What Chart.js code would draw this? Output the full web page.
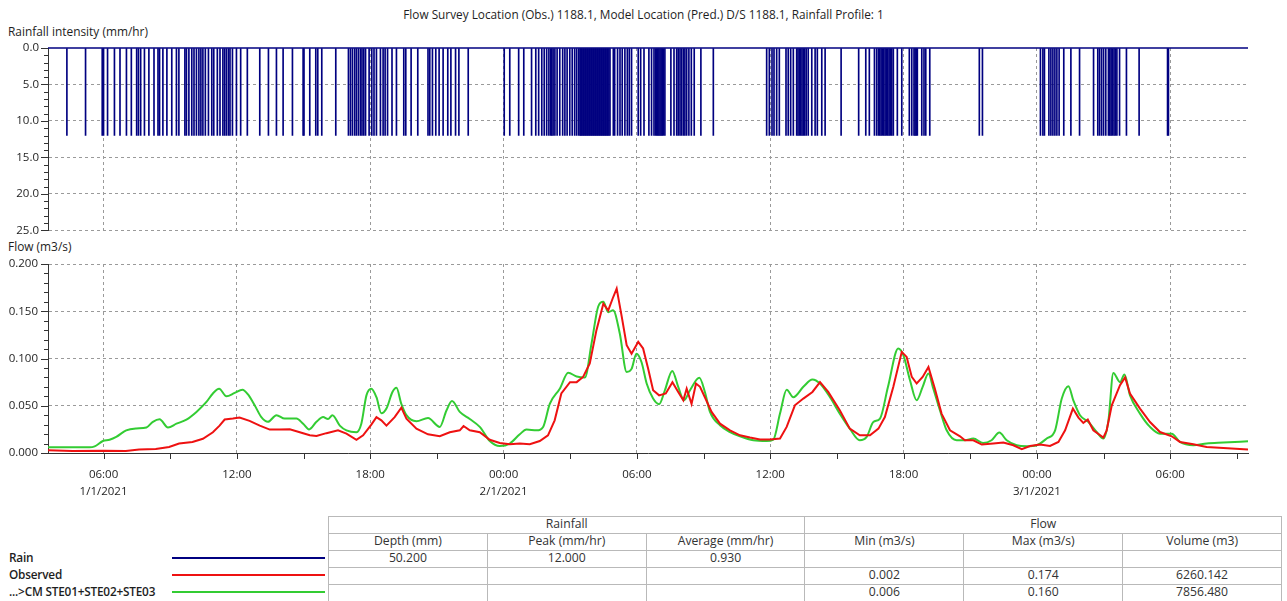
<!DOCTYPE html>
<html><head><meta charset="utf-8">
<script src="https://cdn.jsdelivr.net/npm/chart.js@4.4.1/dist/chart.umd.min.js"></script>
<style>
html,body{margin:0;padding:0;background:#fff;}
body{width:1287px;height:601px;position:relative;overflow:hidden;font-family:"Open Sans","Noto Sans",sans-serif;color:#1e1e1e;}
#title{position:absolute;left:0;width:1287px;top:5px;text-align:center;font-size:11.8px;line-height:18px;}
.axt{position:absolute;left:8px;font-size:11.9px;line-height:16px;}
canvas{position:absolute;left:0;}
#c1{top:0;}
#c2{top:240px;}
.lg{position:absolute;left:9px;font-size:11.8px;font-weight:600;white-space:nowrap;line-height:17px;letter-spacing:-0.2px;}
.ll{position:absolute;left:172px;width:153px;height:2px;}
table{position:absolute;left:328px;top:516px;border-collapse:collapse;table-layout:fixed;width:954px;font-size:12.2px;color:#333;}
td{border:1px solid #b9b9b9;height:16px;line-height:14px;vertical-align:top;text-align:center;padding:0;overflow:hidden;white-space:nowrap;}
</style>
</head>
<body>
<div id="title">Flow Survey Location (Obs.) 1188.1, Model Location (Pred.) D/S 1188.1, Rainfall Profile: 1</div>
<div class="axt" style="top:23px">Rainfall intensity (mm/hr)</div>
<div class="axt" style="top:238px">Flow (m3/s)</div>
<canvas id="c1" width="1287" height="248"></canvas>
<canvas id="c2" width="1287" height="258"></canvas>

<div class="lg" style="top:549px">Rain</div>
<div class="lg" style="top:566px">Observed</div>
<div class="lg" style="top:583px">...&gt;CM STE01+STE02+STE03</div>
<div class="ll" style="top:557px;background:#000080"></div>
<div class="ll" style="top:574px;background:#ee1111"></div>
<div class="ll" style="top:591px;background:#33cc33"></div>

<table>
<colgroup><col><col><col><col><col><col></colgroup>
<tr><td colspan="3">Rainfall</td><td colspan="3">Flow</td></tr>
<tr><td>Depth (mm)</td><td>Peak (mm/hr)</td><td>Average (mm/hr)</td><td>Min (m3/s)</td><td>Max (m3/s)</td><td>Volume (m3)</td></tr>
<tr><td>50.200</td><td>12.000</td><td>0.930</td><td></td><td></td><td></td></tr>
<tr><td></td><td></td><td></td><td>0.002</td><td>0.174</td><td>6260.142</td></tr>
<tr><td></td><td></td><td></td><td>0.006</td><td>0.160</td><td>7856.480</td></tr>
</table>

<script>
// ---- time axis (hours since 00:00 on 1/1/2021) ----
const xMin = 3.5, xMax = 57.5;
const xMajorHours = [6, 12, 18, 24, 30, 36, 42, 48, 54];
const xMajorLabels = ['06:00', '12:00', '18:00', '00:00', '06:00', '12:00', '18:00', '00:00', '06:00'];
const xDateLabels = ['1/1/2021', '', '', '2/1/2021', '', '', '', '3/1/2021', ''];
const xMinorHours = [9, 15, 21, 27, 33, 39, 45, 51, 57];

// ---- rainfall (each tip = 12.0 mm/hr) ----
const rainPeak = 12.0;
const rainTimes = [
 4.35, 5.19, 5.94, 6.00, 6.18, 6.49, 6.74, 7.03, 7.25, 7.49, 7.57, 7.67, 7.84, 8.04, 8.27, 8.45, 8.52, 8.67, 8.85, 9.07,
 9.28, 9.39, 9.66, 9.73, 9.84, 9.97, 10.07, 10.18, 10.29, 10.38, 10.47, 10.58, 10.72, 10.87, 10.96, 11.12, 11.24, 11.37,
 11.45, 11.53, 11.62, 11.69, 11.80, 11.98, 12.17, 12.47, 13.03, 13.42, 13.78, 14.08, 14.50, 14.98, 15.02, 15.28, 15.55,
 15.64, 15.82, 16.45, 17.02, 17.11, 17.20, 17.30, 17.38, 17.47, 17.56, 17.63, 17.71, 17.79, 17.95, 18.07, 18.17, 18.28,
 18.46, 18.58, 18.67, 18.78, 18.98, 19.18, 19.51, 19.60, 19.84, 20.14, 20.60, 20.68, 20.80, 20.95, 21.10, 21.28, 21.49,
 21.63, 21.84, 21.99, 22.41, 24.03, 24.28, 24.68, 24.91, 25.26, 25.45, 25.58, 25.72, 25.83, 25.94, 26.04, 26.12, 26.17,
 26.23, 26.31, 26.41, 26.53, 26.66, 26.76, 26.86, 26.98, 27.09, 27.20, 27.29, 27.38, 27.44,
 27.48, 27.52, 27.57, 27.61, 27.66, 27.70, 27.75, 27.79, 27.84, 27.88, 27.93, 27.97, 28.02, 28.06, 28.11, 28.15, 28.20,
 28.24, 28.29, 28.33, 28.38, 28.42, 28.47, 28.51, 28.56, 28.60, 28.65, 28.69, 28.74,
 28.79, 28.94, 29.00, 29.13, 29.24, 29.34, 29.46, 29.57, 29.66, 29.76, 30.06, 30.17, 30.32, 30.54, 30.66, 30.77,
 30.84, 30.89, 30.94, 30.99, 31.04, 31.09, 31.14, 31.19,
 31.26, 31.53, 31.67, 31.79, 31.86, 31.94, 32.01, 32.09, 32.16, 32.24, 32.34, 32.45, 32.58, 32.88, 33.44, 35.84, 35.96,
 36.08, 36.17, 36.29, 36.41, 36.71, 36.81, 36.92, 37.04, 37.19, 37.25, 37.31, 37.37, 37.43, 37.49, 37.55, 37.62, 37.71,
 37.87, 38.02, 38.12, 38.32, 38.47, 39.19, 39.98,
 40.30, 40.46, 40.69, 40.79, 40.87, 40.93, 40.99, 41.05, 41.11, 41.17, 41.23, 41.29, 41.35, 41.41, 41.47, 41.54, 41.72,
 41.92, 42.26, 42.37, 42.47, 42.52, 42.57, 42.62, 42.82, 42.92, 43.00, 43.18, 45.41, 45.55, 48.16, 48.27, 48.34, 48.54,
 48.63, 48.72, 48.81, 48.90, 49.00, 49.21, 49.53, 49.92, 50.55, 50.74, 50.82, 50.91, 51.00, 51.10, 51.22, 51.28, 51.34,
 51.40, 51.47, 51.53, 51.60, 51.72, 52.03, 52.60, 53.88, 53.92
];
const rainYMajor = [0, 5, 10, 15, 20, 25];
const rainYLabels = ['0.0', '5.0', '10.0', '15.0', '20.0', '25.0'];

// ---- flow (m3/s) ----
const flowYMajor = [0, 0.05, 0.1, 0.15, 0.2];
const flowYLabels = ['0.000', '0.050', '0.100', '0.150', '0.200'];

const obsHours = [
 3.5, 4.6, 6.0, 7.0, 7.6, 8.35, 8.95, 9.4, 10.0, 10.47, 10.92, 11.22, 11.45, 11.82, 12.12, 12.57, 13.03, 13.48, 13.93,
 14.38, 14.83, 15.28, 15.58, 16.03, 16.55, 16.93, 17.38, 17.68, 18.05, 18.28, 18.5, 18.73, 19.1, 19.4, 19.63, 20.08,
 20.6, 21.13, 21.58, 22.03, 22.2, 22.48, 22.93, 23.38, 23.83, 24.28, 24.73, 25.18, 25.63, 26.0, 26.3, 26.6, 26.99,
 27.29, 27.58, 27.88, 28.18, 28.49, 28.71, 28.91, 29.09, 29.32, 29.54, 29.76, 30.06, 30.28, 30.51, 30.73, 31.0, 31.3,
 31.6, 31.86, 32.09, 32.24, 32.46, 32.66, 32.84, 33.06, 33.36, 33.74, 34.19, 34.64, 35.09, 35.54, 35.99, 36.44, 36.74,
 37.11, 37.49, 37.9, 38.24, 38.61, 39.13, 39.58, 40.03, 40.49, 40.87, 41.16, 41.54, 41.92, 42.14, 42.37, 42.59, 42.86,
 43.12, 43.41, 43.71, 44.09, 44.54, 44.76, 45.14, 45.52, 46.04, 46.49, 46.94, 47.32, 47.69, 48.14, 48.59, 48.97, 49.27,
 49.62, 49.87, 50.09, 50.29, 50.54, 50.99, 51.14, 51.37, 51.74, 51.97, 52.19, 52.64, 53.09, 53.54, 54.07, 54.44, 55.04,
 55.64, 56.39, 57.5
];
const obsFlow = [
 0.003, 0.002, 0.0025, 0.002, 0.0036, 0.0042, 0.0064, 0.010, 0.0117, 0.015, 0.022, 0.029, 0.0354, 0.0364, 0.0375, 0.034,
 0.029, 0.0248, 0.0248, 0.025, 0.022, 0.0187, 0.018, 0.021, 0.024, 0.0205, 0.014, 0.0187, 0.030, 0.038, 0.0346, 0.029,
 0.038, 0.048, 0.0364, 0.0258, 0.0198, 0.0177, 0.022, 0.024, 0.0286, 0.024, 0.022, 0.014, 0.0106, 0.0092, 0.010, 0.0092,
 0.0127, 0.0187, 0.0346, 0.063, 0.075, 0.075, 0.0805, 0.0947, 0.130, 0.158, 0.151, 0.1635, 0.174, 0.144, 0.114, 0.105,
 0.1176, 0.1106, 0.089, 0.0664, 0.061, 0.063, 0.075, 0.0646, 0.0558, 0.068, 0.052, 0.0735, 0.070, 0.059, 0.0435, 0.031,
 0.024, 0.0187, 0.0163, 0.0142, 0.0142, 0.0153, 0.0276, 0.0505, 0.0576, 0.0646, 0.075, 0.0646, 0.0452, 0.0258, 0.0187,
 0.0187, 0.0258, 0.038, 0.070, 0.107, 0.1017, 0.0805, 0.0735, 0.0805, 0.091, 0.068, 0.0417, 0.024, 0.0177, 0.0135,
 0.0135, 0.0089, 0.010, 0.011, 0.0082, 0.004, 0.0074, 0.0089, 0.0074, 0.0117, 0.024, 0.047, 0.0375, 0.0318, 0.0354,
 0.024, 0.0163, 0.024, 0.0505, 0.0717, 0.080, 0.063, 0.047, 0.0328, 0.0222, 0.0177, 0.0117, 0.0092, 0.0064, 0.0053,
 0.0036
];

const modelHours = [
 3.5, 5.37, 5.6, 5.97, 6.27, 6.57, 7.02, 7.47, 7.93, 8.22, 8.52, 8.9, 9.28, 9.73, 10.18, 10.63, 10.92, 11.2, 11.53, 11.9,
 12.25, 12.5, 12.8, 13.1, 13.4, 13.78, 14.15, 14.68, 14.98, 15.25, 15.58, 15.88, 16.1, 16.3, 16.63, 16.93, 17.38, 17.6,
 17.83, 18.05, 18.28, 18.5, 18.73, 19.0, 19.18, 19.4, 19.63, 20.08, 20.6, 21.13, 21.43, 21.68, 22.03, 22.48, 22.93,
 23.38, 23.83, 24.28, 24.73, 25.03, 25.49, 25.78, 26.08, 26.53, 26.91, 27.29, 27.66, 27.96, 28.26, 28.49, 28.71, 28.93,
 29.23, 29.54, 29.76, 29.98, 30.21, 30.44, 30.73, 31.0, 31.26, 31.59, 31.86, 32.12, 32.39, 32.81, 33.06, 33.29, 33.74,
 34.19, 34.64, 35.24, 35.84, 36.14, 36.44, 36.74, 37.04, 37.49, 37.9, 38.24, 38.69, 39.13, 39.58, 40.03, 40.34, 40.64,
 40.94, 41.3, 41.76, 41.99, 42.29, 42.59, 42.86, 43.12, 43.34, 43.64, 43.94, 44.39, 44.76, 45.14, 45.58, 45.96, 46.31,
 46.64, 47.09, 47.54, 47.99, 48.44, 48.82, 49.12, 49.42, 49.64, 49.94, 50.32, 50.69, 50.99, 51.22, 51.44, 51.74, 51.94,
 52.19, 52.64, 53.09, 53.54, 54.07, 54.44, 55.04, 55.64, 56.39, 57.5
];
const modelFlow = [
 0.006, 0.006, 0.007, 0.0127, 0.014, 0.017, 0.024, 0.026, 0.027, 0.033, 0.0357, 0.027, 0.031, 0.0354, 0.0435, 0.054,
 0.063, 0.068, 0.060, 0.0636, 0.067, 0.062, 0.0505, 0.038, 0.033, 0.040, 0.0364, 0.0364, 0.031, 0.025, 0.033, 0.038,
 0.036, 0.040, 0.029, 0.024, 0.022, 0.031, 0.061, 0.068, 0.059, 0.042, 0.047, 0.0646, 0.069, 0.052, 0.040, 0.0336,
 0.037, 0.0276, 0.045, 0.055, 0.0435, 0.036, 0.0276, 0.0127, 0.0074, 0.010, 0.0198, 0.0248, 0.024, 0.0276, 0.052,
 0.068, 0.0848, 0.081, 0.080, 0.116, 0.155, 0.160, 0.149, 0.151, 0.1265, 0.0858, 0.089, 0.105, 0.096, 0.0735, 0.0576,
 0.0516, 0.0664, 0.0869, 0.070, 0.0558, 0.0664, 0.0795, 0.0646, 0.0435, 0.0293, 0.0222, 0.0177, 0.0135, 0.0127, 0.0142,
 0.0417, 0.067, 0.059, 0.070, 0.0778, 0.0735, 0.059, 0.0417, 0.0258, 0.0135, 0.017, 0.0328, 0.0364, 0.070, 0.1106,
 0.1035, 0.077, 0.0558, 0.070, 0.0841, 0.068, 0.045, 0.024, 0.0135, 0.0135, 0.0153, 0.0106, 0.0135, 0.0216, 0.0135,
 0.0082, 0.0071, 0.0082, 0.0153, 0.024, 0.0576, 0.0707, 0.0558, 0.040, 0.0328, 0.0222, 0.0153, 0.0346, 0.0847, 0.075,
 0.083, 0.061, 0.0417, 0.0276, 0.0205, 0.0205, 0.0117, 0.0082, 0.010, 0.011, 0.0124
];

// ---- styling ----
const GRID = '#9a9a9a';
const AXIS = '#333333';
const FONT = { family: "'Open Sans', 'Noto Sans', sans-serif", size: 11.5, lineHeight: 1.5 };
const TXT = '#1e1e1e';
const AXIS_W = 48, RIGHT_PAD = 39;

const decor = {
  id: 'decor',
  afterDraw(chart, args, o) {
    const { ctx, chartArea: a, scales: { x, y } } = chart;
    ctx.save();
    ctx.strokeStyle = AXIS; ctx.lineWidth = 1;
    ctx.beginPath();
    for (let i = 0; i < o.yMajor.length; i++) {
      const py = Math.round(y.getPixelForValue(o.yMajor[i])) + 0.5;
      ctx.moveTo(a.left - 7, py); ctx.lineTo(a.left, py);
      if (i < o.yMajor.length - 1) {
        const v0 = o.yMajor[i], v1 = o.yMajor[i + 1];
        for (let k = 1; k < o.ySub; k++) {
          const pm = Math.round(y.getPixelForValue(v0 + (v1 - v0) * k / o.ySub)) + 0.5;
          ctx.moveTo(a.left - 4, pm); ctx.lineTo(a.left, pm);
        }
      }
    }
    if (o.xTicks) {
      xMajorHours.concat(xMinorHours).forEach(h => {
        const px = Math.round(x.getPixelForValue(h)) + 0.5;
        ctx.moveTo(px, a.bottom); ctx.lineTo(px, a.bottom + 6);
      });
    }
    ctx.stroke();
    if (o.baseline) {
      const py = y.getPixelForValue(0);
      ctx.strokeStyle = '#000080'; ctx.lineWidth = 1.5;
      ctx.beginPath(); ctx.moveTo(a.left, py); ctx.lineTo(a.right, py); ctx.stroke();
    }
    ctx.restore();
  }
};

const xScaleBase = (withLabels) => ({
  type: 'linear', min: xMin, max: xMax, offset: false,
  afterBuildTicks: s => { s.ticks = xMajorHours.map(v => ({ value: v })); },
  ticks: {
    display: withLabels, autoSkip: false, maxRotation: 0, padding: 12, font: FONT, color: TXT,
    callback: (v) => {
      const i = xMajorHours.indexOf(v);
      if (i < 0) return '';
      return xDateLabels[i] ? [xMajorLabels[i], xDateLabels[i]] : xMajorLabels[i];
    }
  },
  grid: { color: GRID, lineWidth: 1, drawTicks: false, offset: false },
  border: { display: withLabels, color: AXIS, width: 1, dash: [3, 3] }
});

// ---- rainfall chart ----
const rainX = xScaleBase(false);
rainX.afterFit = s => { s.height = 0; };
new Chart(document.getElementById('c1'), {
  type: 'bar',
  data: {
    datasets: [{
      label: 'Rain',
      data: rainTimes.map(t => ({ x: t, y: rainPeak })),
      backgroundColor: '#000080', borderWidth: 0, barThickness: 1
    }]
  },
  options: {
    responsive: false, animation: false, devicePixelRatio: 1,
    layout: { padding: { left: 0, right: RIGHT_PAD, top: 48, bottom: 2 } },
    plugins: { legend: { display: false }, tooltip: { enabled: false },
      decor: { yMajor: rainYMajor, ySub: 5, xTicks: false, baseline: true } },
    scales: {
      x: rainX,
      y: {
        reverse: true, min: 0, max: 25,
        afterBuildTicks: s => { s.ticks = rainYMajor.map(v => ({ value: v })); },
        afterFit: s => { s.width = AXIS_W; },
        ticks: { padding: 9, font: FONT, color: TXT, autoSkip: false,
          callback: v => rainYLabels[rainYMajor.indexOf(v)] },
        grid: { drawTicks: false, lineWidth: 1,
          color: c => (c.tick && c.tick.value === 0) ? 'rgba(0,0,0,0)' : GRID },
        border: { color: AXIS, width: 1, dash: [3, 3] }
      }
    }
  },
  plugins: [decor]
});

// ---- flow chart ----
const flowX = xScaleBase(true);
flowX.afterFit = s => { s.height = 45; };
flowX.ticks.padding = 13;
new Chart(document.getElementById('c2'), {
  type: 'line',
  data: {
    datasets: [
      { label: 'Observed', data: obsHours.map((h, i) => ({ x: h, y: obsFlow[i] })),
        borderColor: '#ee1111', borderWidth: 2, pointRadius: 0, tension: 0, fill: false },
      { label: '...>CM STE01+STE02+STE03', data: modelHours.map((h, i) => ({ x: h, y: modelFlow[i] })),
        borderColor: '#33cc33', borderWidth: 2, pointRadius: 0, tension: 0.35, cubicInterpolationMode: 'monotone', fill: false }
    ]
  },
  options: {
    responsive: false, animation: false, devicePixelRatio: 1,
    layout: { padding: { left: 0, right: RIGHT_PAD, top: 24, bottom: 0 } },
    plugins: { legend: { display: false }, tooltip: { enabled: false },
      decor: { yMajor: flowYMajor, ySub: 5, xTicks: true, baseline: false } },
    scales: {
      x: flowX,
      y: {
        min: 0, max: 0.2,
        afterBuildTicks: s => { s.ticks = flowYMajor.map(v => ({ value: v })); },
        afterFit: s => { s.width = AXIS_W; },
        ticks: { padding: 10, font: FONT, color: TXT, autoSkip: false,
          callback: v => flowYLabels[flowYMajor.indexOf(v)] },
        grid: { drawTicks: false, lineWidth: 1,
          color: c => (c.tick && c.tick.value === 0) ? 'rgba(0,0,0,0)' : GRID },
        border: { color: AXIS, width: 1, dash: [3, 3] }
      }
    }
  },
  plugins: [decor]
});
</script>
</body></html>
